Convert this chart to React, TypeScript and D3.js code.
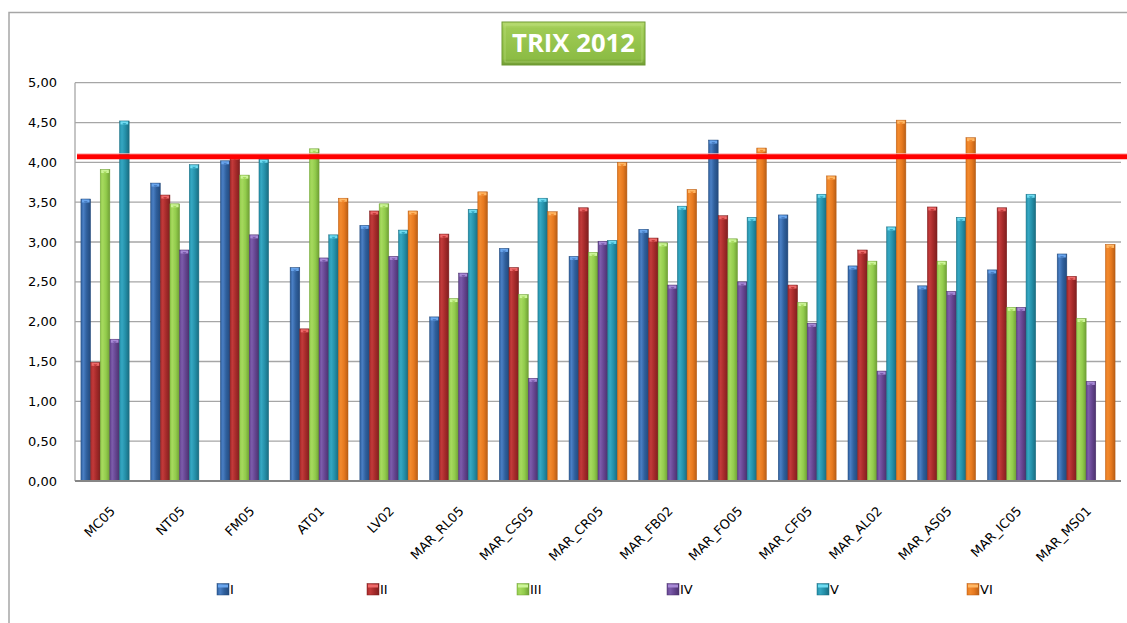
import React from "react";
import * as d3 from "d3";

const categories = ["MC05","NT05","FM05","AT01","LV02","MAR_RL05","MAR_CS05","MAR_CR05","MAR_FB02","MAR_FO05","MAR_CF05","MAR_AL02","MAR_AS05","MAR_IC05","MAR_MS01"];
const seriesNames = ["I","II","III","IV","V","VI"];
const seriesI = [3.54,3.74,4.02,2.68,3.21,2.06,2.92,2.82,3.16,4.28,3.34,2.70,2.45,2.65,2.85];
const seriesII = [1.49,3.59,4.08,1.91,3.39,3.10,2.68,3.43,3.05,3.33,2.46,2.90,3.44,3.43,2.57];
const seriesIII = [3.91,3.48,3.84,4.17,3.48,2.29,2.34,2.87,2.99,3.04,2.24,2.76,2.76,2.18,2.04];
const seriesIV = [1.78,2.90,3.09,2.80,2.82,2.61,1.29,3.01,2.46,2.50,1.98,1.38,2.38,2.18,1.25];
const seriesV: (number|null)[] = [4.52,3.97,4.04,3.09,3.15,3.41,3.55,3.02,3.45,3.31,3.60,3.19,3.31,3.60,null];
const seriesVI: (number|null)[] = [null,null,null,3.55,3.39,3.63,3.38,4.00,3.66,4.18,3.83,4.53,4.31,null,2.97];
const yTicks = [0,0.5,1,1.5,2,2.5,3,3.5,4,4.5,5];
const threshold = 4.07;
const title = "TRIX 2012";

const allSeries = [seriesI, seriesII, seriesIII, seriesIV, seriesV, seriesVI];

// [light edge, mid, dark edge, cap]
const palette = [
  ["#4a7fc4", "#2f5f9c", "#234a7d", "#6aa6ee"],
  ["#c23a3a", "#a52a2a", "#7f1f1f", "#ee6a6a"],
  ["#a6d95e", "#92cc4c", "#6f9f35", "#cdf59a"],
  ["#7c5cab", "#654590", "#4b326d", "#a88ad6"],
  ["#35a7c2", "#2490a9", "#1a6c80", "#6fdcf2"],
  ["#f28a2e", "#e6791f", "#b85e16", "#ffb866"],
];

export default function App() {
  const W = 1127, H = 623;
  const left = 75, right = 1121, top = 82.7, bottom = 481;
  const x = d3.scaleBand<string>().domain(categories).range([left, right]).padding(0);
  const bw = x.bandwidth();
  const gap = bw * 0.17;
  const xi = d3.scaleBand<string>().domain(seriesNames).range([gap / 2, bw - gap / 2]).padding(0);
  const y = d3.scaleLinear().domain([0, 5]).range([bottom, top]);
  const fmt = (v: number) => d3.format(".2f")(v).replace(".", ",");
  const font = "'DejaVu Sans', Verdana, sans-serif";

  return (
    <svg width={W} height={H} style={{ position: "absolute", left: 0, top: 0, display: "block", background: "#fff" }}>
      <defs>
        {palette.map((c, i) => (
          <linearGradient key={i} id={`g${i}`} x1="0" x2="1" y1="0" y2="0">
            <stop offset="0" stopColor={c[1]} />
            <stop offset="0.25" stopColor={c[0]} />
            <stop offset="0.6" stopColor={c[1]} />
            <stop offset="1" stopColor={c[2]} />
          </linearGradient>
        ))}
        <linearGradient id="titleg" x1="0" x2="0" y1="0" y2="1">
          <stop offset="0" stopColor="#b9dc72" />
          <stop offset="0.15" stopColor="#9fcb55" />
          <stop offset="0.85" stopColor="#8cbc44" />
          <stop offset="1" stopColor="#6f9a33" />
        </linearGradient>
      </defs>

      {/* chart frame */}
      <path d={`M9,${H} V12.5 H${W}`} fill="none" stroke="#a6a6a6" strokeWidth={1.5} />

      {/* gridlines */}
      {yTicks.map((t) => (
        <line key={t} x1={left} x2={right} y1={y(t)} y2={y(t)} stroke="#a6a6a6" strokeWidth={1.3} />
      ))}
      <line x1={left} x2={left} y1={top} y2={bottom} stroke="#a6a6a6" strokeWidth={1.3} />

      {/* y labels */}
      {yTicks.map((t) => (
        <text key={t} x={57} y={y(t)} dy="0.35em" textAnchor="end" fontFamily={font} fontSize={13} fill="#000">
          {fmt(t)}
        </text>
      ))}

      {/* bars */}
      {categories.map((cat, ci) => (
        <g key={cat}>
          {allSeries.map((s, si) => {
            const v = s[ci];
            if (v == null) return null;
            const bx = (x(cat) as number) + (xi(seriesNames[si]) as number);
            const w = xi.bandwidth();
            const by = y(v);
            const c = palette[si];
            return (
              <g key={si}>
                <rect x={bx} y={by} width={w} height={bottom - by} fill={`url(#g${si})`} stroke={c[2]} strokeWidth={0.5} />
                <rect x={bx + 1} y={by + 0.5} width={w - 2} height={3} fill={c[3]} />
                <path d={`M${bx + w / 2 - 2},${by + 2} h4 l-2,2.5 z`} fill={c[0]} />
              </g>
            );
          })}
        </g>
      ))}

      {/* bottom axis */}
      <line x1={left} x2={right} y1={bottom} y2={bottom} stroke="#868686" strokeWidth={2} />

      {/* threshold line */}
      <line x1={77} x2={W} y1={y(threshold) - 3} y2={y(threshold) - 3} stroke="#ffb3b3" strokeWidth={1} />
      <line x1={77} x2={W} y1={y(threshold)} y2={y(threshold)} stroke="#ff0000" strokeWidth={5} />

      {/* x labels */}
      {categories.map((cat) => {
        const cx = (x(cat) as number) + bw / 2 + 6;
        const cy = 512;
        return (
          <text key={cat} x={cx} y={cy} textAnchor="end" fontFamily={font} fontSize={13} fill="#000"
            transform={`rotate(-45 ${cx} ${cy})`}>
            {cat}
          </text>
        );
      })}

      {/* legend */}
      {seriesNames.map((n, i) => {
        const lx = 217 + i * 150;
        const ly = 583.5;
        const c = palette[i];
        return (
          <g key={n}>
            <rect x={lx} y={ly} width={12} height={11.5} fill={`url(#g${i})`} stroke={c[2]} strokeWidth={0.5} />
            <rect x={lx + 1} y={ly + 1} width={10} height={3} fill={c[3]} />
            <text x={lx + 13} y={ly + 6} dy="0.35em" fontFamily={font} fontSize={13} fill="#000">{n}</text>
          </g>
        );
      })}

      {/* title */}
      <rect x={502} y={22} width={143} height={43} fill="url(#titleg)" stroke="#6f9a33" strokeWidth={1} />
      <rect x={505} y={25} width={137} height={37} fill="none" stroke="#c6e48c" strokeWidth={0.8} opacity={0.6} />
      <text x={573.5} y={52} textAnchor="middle" fontFamily="'Open Sans', 'Liberation Sans', sans-serif" fontWeight="bold"
        fontSize={25} fill="#ffffff" textLength={123} lengthAdjust="spacingAndGlyphs">
        {title}
      </text>
    </svg>
  );
}
